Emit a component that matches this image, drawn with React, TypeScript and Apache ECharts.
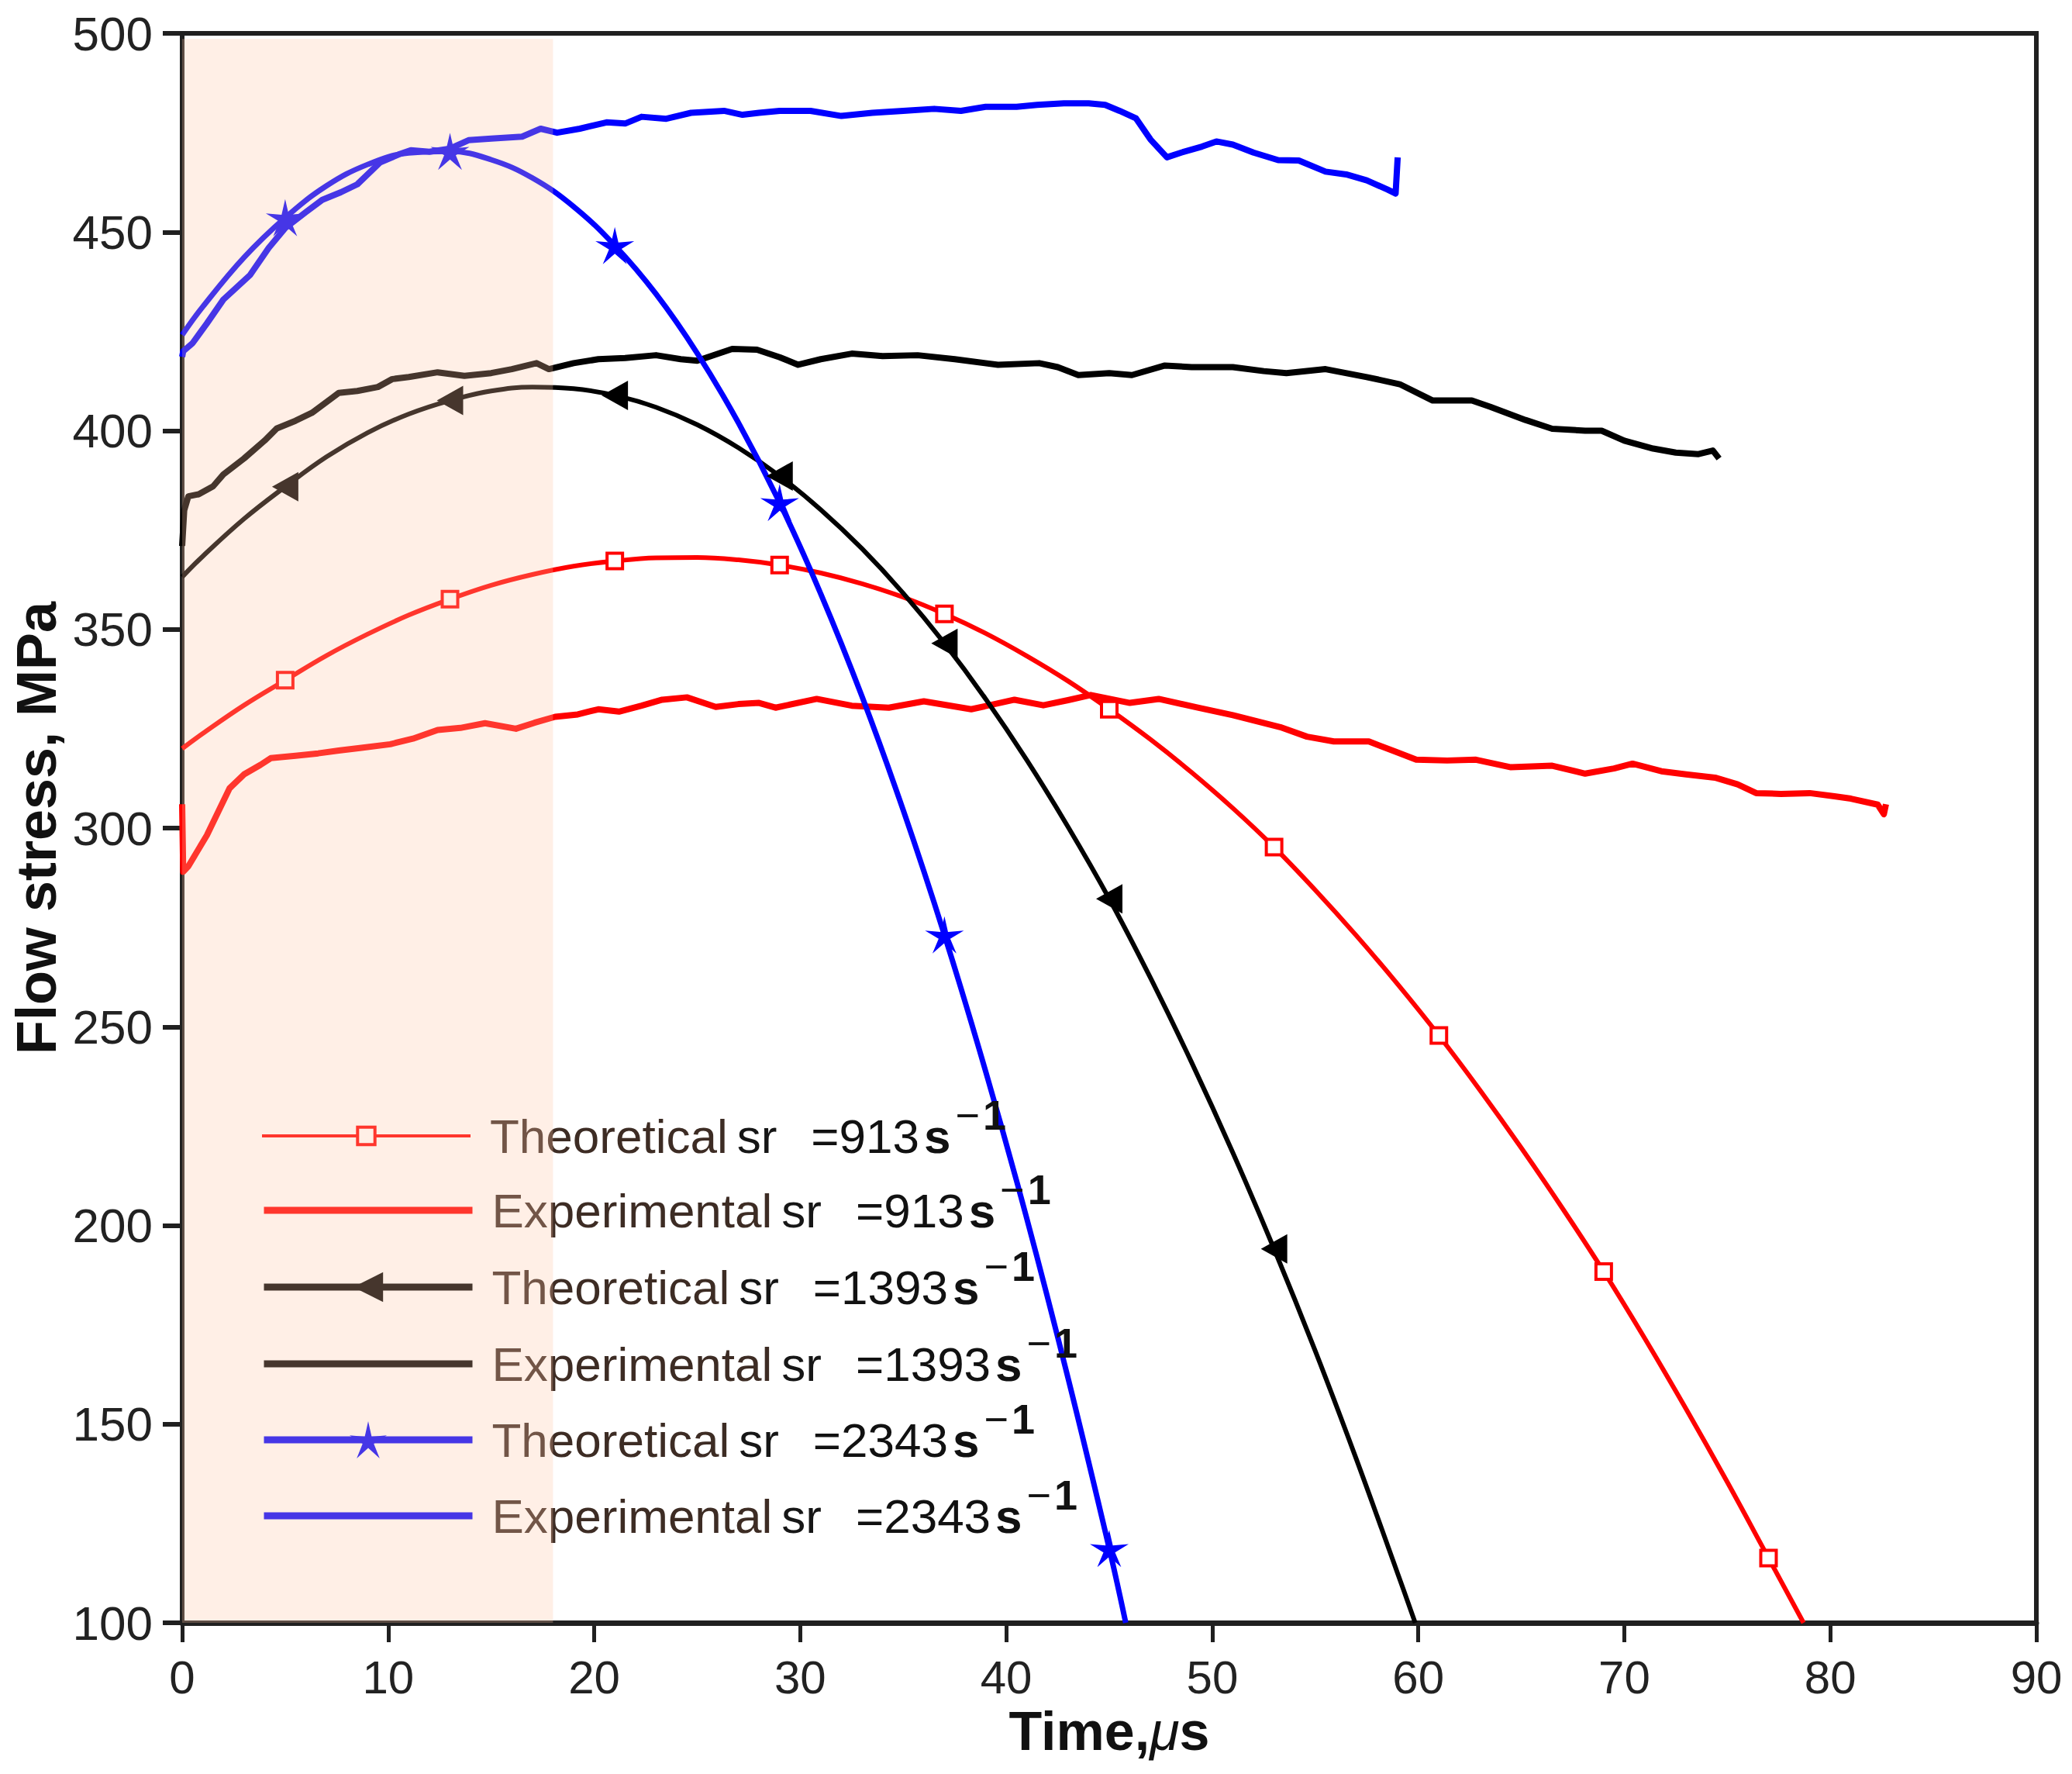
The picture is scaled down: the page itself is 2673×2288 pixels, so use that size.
import React, { useEffect, useRef } from 'react';
import * as echarts from 'echarts';

// ---------- data ----------
const xTickValues = [0, 10, 20, 30, 40, 50, 60, 70, 80, 90];
const yTickValues = [100, 150, 200, 250, 300, 350, 400, 450, 500];

// Theoretical curves (time in µs, stress in MPa)
const redTheoX = [0, 1, 3, 5, 7, 9, 11, 13, 15, 17, 19, 21, 23, 25, 27, 29, 31, 33, 35, 37, 39, 41, 43, 45, 47, 49, 51, 53, 55, 57, 59, 61, 63, 65, 67, 69, 71, 73, 75, 77, 78.7];
const redTheoY = [320, 323.8, 330.9, 337.2, 343.4, 348.8, 353.6, 357.6, 361.1, 363.8, 365.9, 367.2, 368.0, 368.1, 367.5, 366.2, 364.2, 361.5, 358.1, 353.9, 349.0, 343.3, 337.0, 329.9, 322.3, 314.0, 305.0, 295.2, 284.4, 272.9, 260.7, 247.8, 234.0, 219.5, 204.3, 188.4, 171.5, 153.8, 135.4, 116.3, 100];
const redMarkX = [5, 13, 21, 29, 37, 45, 53, 61, 69, 77];

const blackTheoX = [0, 1, 3, 5, 7, 9, 11, 13, 15, 17, 19, 21, 23, 25, 27, 29, 31, 33, 35, 37, 39, 41, 43, 45, 47, 49, 51, 53, 55, 57, 59, 59.85];
const blackTheoY = [363.2, 368.4, 377.8, 385.9, 393.4, 399.5, 404.2, 407.6, 410.0, 411.0, 410.6, 408.9, 405.9, 401.5, 395.7, 388.6, 380.1, 370.3, 359.1, 346.5, 332.5, 317.1, 300.3, 282.2, 262.3, 241.0, 218.3, 194.1, 168.4, 141.1, 112.4, 100];
const blackMarkX = [5, 13, 21, 29, 37, 45, 53];

const blueTheoX = [0, 1, 3, 5, 7, 9, 11, 13, 15, 17, 19, 21, 23, 25, 27, 29, 31, 33, 35, 37, 39, 41, 43, 45, 45.8];
const blueTheoY = [424.1, 431.2, 443.6, 453.6, 461.6, 467.0, 469.9, 470.3, 468.2, 463.6, 456.4, 446.6, 434.4, 419.5, 402.0, 381.9, 358.9, 333.1, 304.5, 273.1, 238.8, 201.7, 161.6, 118.7, 100];
const blueMarkX = [5, 13, 21, 29, 37, 45];

// Experimental curves
const redExpX = [0, 0.05, 0.3, 1.2, 2.3, 3.0, 3.8, 4.3, 5.5, 6.6, 7.6, 8.7, 10.1, 11.2, 12.4, 13.5, 14.7, 16.2, 17.1, 18.1, 19.2, 20.2, 21.2, 22.3, 23.3, 24.5, 25.9, 27.0, 28.0, 28.8, 30.8, 32.5, 34.3, 36.0, 38.3, 40.4, 41.8, 43.0, 44.1, 46.0, 47.4, 49.3, 51.0, 53.3, 54.6, 55.9, 57.6, 58.9, 59.9, 61.4, 62.8, 64.5, 66.5, 68.1, 69.5, 70.4, 71.8, 73.0, 74.4, 75.5, 76.4, 77.6, 79.0, 80.2, 81.0, 82.3, 82.6, 82.7];
const redExpY = [306, 289, 290.4, 298.2, 310, 313.5, 315.9, 317.6, 318.2, 318.8, 319.5, 320.2, 321.1, 322.5, 324.7, 325.2, 326.4, 325, 326.5, 328, 328.6, 329.9, 329.3, 330.8, 332.3, 332.9, 330.5, 331.2, 331.5, 330.3, 332.5, 330.8, 330.3, 331.9, 329.9, 332.3, 330.9, 332.2, 333.5, 331.5, 332.5, 330.3, 328.4, 325.4, 323, 321.8, 321.8, 319.2, 317.2, 317.0, 317.2, 315.3, 315.7, 313.7, 315.0, 316.2, 314.3, 313.5, 312.7, 311.0, 308.8, 308.6, 308.8, 308.0, 307.4, 305.9, 303.5, 306];

const blackExpX = [0, 0.1, 0.3, 0.8, 1.5, 2.0, 3.0, 4.0, 4.6, 5.5, 6.3, 7.6, 8.5, 9.5, 10.2, 11.0, 12.4, 13.7, 15.0, 16.0, 17.2, 17.8, 19.0, 20.2, 21.5, 23.0, 24.2, 25.0, 26.7, 27.9, 29.0, 29.9, 31.0, 32.5, 34.0, 35.7, 37.5, 39.6, 41.6, 42.5, 43.5, 45.0, 46.1, 47.7, 49.0, 51.0, 52.5, 53.6, 55.5, 57.5, 59.1, 60.7, 62.6, 63.5, 65.2, 66.5, 68.1, 68.9, 70.0, 71.4, 72.5, 73.6, 74.3, 74.6];
const blackExpY = [371, 380, 383.5, 384, 386, 389, 393, 397.5, 400.6, 402.5, 404.5, 409.5, 410, 411, 413, 413.5, 414.7, 413.8, 414.5, 415.5, 417, 415.5, 417, 418, 418.3, 419, 418, 417.6, 420.6, 420.4, 418.5, 416.6, 418, 419.4, 418.8, 419, 418, 416.6, 417, 416, 414, 414.5, 414, 416.4, 416, 416, 415, 414.5, 415.5, 413.5, 411.7, 407.6, 407.6, 406, 402.7, 400.5, 400, 400, 397.5, 395.5, 394.5, 394.1, 395, 393];

const blueExpX = [0, 0.05, 0.5, 1.2, 2.0, 3.3, 4.2, 5.0, 6.0, 6.8, 7.7, 8.5, 9.6, 10.5, 11.1, 12.0, 13.0, 13.9, 15.0, 16.5, 17.4, 18.2, 19.3, 20.6, 21.5, 22.3, 23.5, 24.7, 26.3, 27.2, 28.0, 29.0, 30.5, 32.0, 33.5, 35.0, 36.5, 37.8, 39.0, 40.5, 41.5, 42.8, 44.0, 44.8, 45.5, 46.3, 47.0, 47.8, 48.5, 49.5, 50.2, 51.0, 52.0, 53.2, 54.2, 55.5, 56.5, 57.5, 58.5, 58.9, 59.0];
const blueExpY = [418.6, 420, 422, 427, 433, 439.2, 446, 451, 455, 458.1, 460, 462, 467.5, 469.5, 470.6, 470.2, 471, 473.1, 473.5, 474, 476, 475, 476, 477.6, 477.3, 479, 478.5, 480, 480.5, 479.5, 480, 480.5, 480.5, 479.2, 480, 480.5, 481, 480.5, 481.5, 481.5, 482, 482.4, 482.4, 482, 480.5, 478.6, 473.3, 468.8, 470, 471.5, 472.8, 472, 470, 468.1, 468, 465.2, 464.5, 463, 460.7, 459.7, 468.8];

// Shaded interval
const shadeX = [-0.12, 18];
const shadeY = [99.3, 498.6];

// Legend rows
const legendKinds = ['Theoretical', 'Experimental', 'Theoretical', 'Experimental', 'Theoretical', 'Experimental'];
const legendRates = ['913', '913', '1393', '1393', '2343', '2343'];

// -------------------------------------------------------------
const FONT = '"Liberation Sans", Arial, Helvetica, sans-serif';
const STAR = 'path://M50,0 L58.82,37.86 L97.55,34.55 L64.27,54.64 L79.39,90.45 L50,65 L20.61,90.45 L35.73,54.64 L2.45,34.55 L41.18,37.86 Z';

const names = legendKinds.map((k, i) => `${k} sr =${legendRates[i]} s-1`);

const pairs = (xs: number[], ys: number[]) => xs.map((x, i) => [x, ys[i]]);
const marked = (xs: number[], ys: number[], marks: number[]) =>
  xs.map((x, i) => (marks.indexOf(x) >= 0 ? { value: [x, ys[i]] } : { value: [x, ys[i]], symbol: 'none' }));

function buildOption() {
  const rich = {
    w: { fontFamily: FONT, fontSize: 62, color: '#3d2c24', padding: [0, 0, 0, 20], verticalAlign: 'middle' },
    sr: { fontFamily: FONT, fontSize: 62, color: '#161616', padding: [0, 0, 0, 12], verticalAlign: 'middle' },
    eq: { fontFamily: FONT, fontSize: 62, color: '#111', padding: [0, 0, 0, 44], verticalAlign: 'middle' },
    s: { fontFamily: FONT, fontSize: 62, fontWeight: 'bold', color: '#111', padding: [0, 0, 0, 6], verticalAlign: 'middle' },
    m: { fontFamily: FONT, fontSize: 54, color: '#111', padding: [0, 0, 54, 6], verticalAlign: 'middle' },
    one: { fontFamily: FONT, fontSize: 54, fontWeight: 'bold', color: '#111', padding: [0, 0, 54, 4], verticalAlign: 'middle' },
  };
  const fmt = (name: string) => {
    const i = names.indexOf(name);
    return `{w|${legendKinds[i]}}{sr|sr}{eq|=${legendRates[i]}}{s|s}{m|\u2212}{one|1}`;
  };
  const legendTops = [1411, 1507, 1606, 1705, 1803, 1901];
  const iconHeights = [28, 30, 48, 30, 60, 30];
  const legendItems = [
    { name: names[0], lineStyle: { width: 4 }, itemStyle: { color: '#ffffff', borderColor: '#ff0000', borderWidth: 4 } },
    { name: names[1], lineStyle: { width: 9 }, itemStyle: { opacity: 0 } },
    { name: names[2], lineStyle: { width: 9 } },
    { name: names[3], lineStyle: { width: 9 }, itemStyle: { opacity: 0 } },
    { name: names[4], lineStyle: { width: 9 } },
    { name: names[5], lineStyle: { width: 9 }, itemStyle: { opacity: 0 } },
  ];
  const legends = legendItems.map((item, i) => ({
    show: true,
    orient: 'vertical',
    left: 336,
    top: legendTops[i],
    padding: 0,
    itemWidth: 269,
    itemHeight: iconHeights[i],
    selectedMode: false,
    data: [item],
    formatter: fmt,
    textStyle: { fontFamily: FONT, fontSize: 62, color: '#111', rich },
  }));

  const axisColor = '#202020';
  return {
    animation: false,
    backgroundColor: '#ffffff',
    grid: { left: 235, right: 46, top: 43, bottom: 195, show: true, borderColor: axisColor, borderWidth: 6, backgroundColor: 'transparent' },
    legend: legends,
    xAxis: {
      type: 'value',
      min: 0,
      max: 90,
      interval: 10,
      name: 'Time,{mu|\u03bc}s',
      nameLocation: 'middle',
      nameGap: 105,
      nameTextStyle: {
        fontFamily: FONT, fontSize: 70, fontWeight: 'bold', color: '#111',
        rich: { mu: { fontFamily: FONT, fontSize: 70, fontStyle: 'italic', fontWeight: 'normal', color: '#111' } },
      },
      axisLine: { show: true, onZero: false, lineStyle: { color: axisColor, width: 7 } },
      axisTick: { show: true, inside: false, length: 25, lineStyle: { color: axisColor, width: 5 } },
      axisLabel: { fontFamily: FONT, fontSize: 60, color: '#222', margin: 40, formatter: (v: number) => (xTickValues.indexOf(v) >= 0 ? String(v) : '') },
      splitLine: { show: false },
    },
    yAxis: {
      type: 'value',
      min: 100,
      max: 500,
      interval: 50,
      name: 'Flow stress, MPa',
      nameLocation: 'middle',
      nameGap: 150,
      nameTextStyle: { fontFamily: FONT, fontSize: 72, fontWeight: 'bold', color: '#111' },
      axisLine: { show: true, onZero: false, lineStyle: { color: axisColor, width: 5 } },
      axisTick: { show: true, inside: false, length: 25, lineStyle: { color: axisColor, width: 6 } },
      axisLabel: { fontFamily: FONT, fontSize: 62, color: '#222', margin: 38, formatter: (v: number) => (yTickValues.indexOf(v) >= 0 ? String(v) : '') },
      splitLine: { show: false },
    },
    series: [
      {
        name: names[0], type: 'line', smooth: 0.4, data: marked(redTheoX, redTheoY, redMarkX),
        symbol: 'rect', symbolSize: 20, showAllSymbol: true,
        lineStyle: { color: '#ff0000', width: 6 }, itemStyle: { color: '#ffffff', borderColor: '#ff0000', borderWidth: 4 }, z: 3,
      },
      {
        name: names[1], type: 'line', data: pairs(redExpX, redExpY), symbol: 'none',
        lineStyle: { color: '#ff0000', width: 8, join: 'round' }, itemStyle: { color: '#ff0000' }, z: 2,
      },
      {
        name: names[2], type: 'line', smooth: 0.4, data: marked(blackTheoX, blackTheoY, blackMarkX),
        symbol: 'triangle', symbolRotate: 90, symbolSize: [38, 34], showAllSymbol: true,
        lineStyle: { color: '#000000', width: 6 }, itemStyle: { color: '#000000' }, z: 3,
      },
      {
        name: names[3], type: 'line', data: pairs(blackExpX, blackExpY), symbol: 'none',
        lineStyle: { color: '#000000', width: 8, join: 'round' }, itemStyle: { color: '#000000' }, z: 2,
      },
      {
        name: names[4], type: 'line', smooth: 0.4, data: marked(blueTheoX, blueTheoY, blueMarkX),
        symbol: STAR, symbolSize: [50, 48], showAllSymbol: true,
        lineStyle: { color: '#0000ff', width: 7 }, itemStyle: { color: '#0000ff' }, z: 3,
      },
      {
        name: names[5], type: 'line', data: pairs(blueExpX, blueExpY), symbol: 'none',
        lineStyle: { color: '#0000ff', width: 8, join: 'round' }, itemStyle: { color: '#0000ff' }, z: 2,
      },
      {
        name: 'shade', type: 'line', data: [], clip: false, z: 20, silent: true,
        markArea: {
          silent: true, z: 20,
          itemStyle: { color: 'rgba(255,196,164,0.275)', borderWidth: 0 },
          data: [[{ coord: [shadeX[0], shadeY[0]] }, { coord: [shadeX[1], shadeY[1]] }]],
        },
      },
    ],
  };
}

export default function App() {
  const ref = useRef<HTMLDivElement>(null);
  useEffect(() => {
    document.body.style.margin = '0';
    if (!ref.current) return;
    const chart = echarts.init(ref.current, undefined, { renderer: 'svg' });
    chart.setOption(buildOption() as any);
    return () => chart.dispose();
  }, []);
  return <div ref={ref} style={{ width: 2673, height: 2288 }} />;
}
